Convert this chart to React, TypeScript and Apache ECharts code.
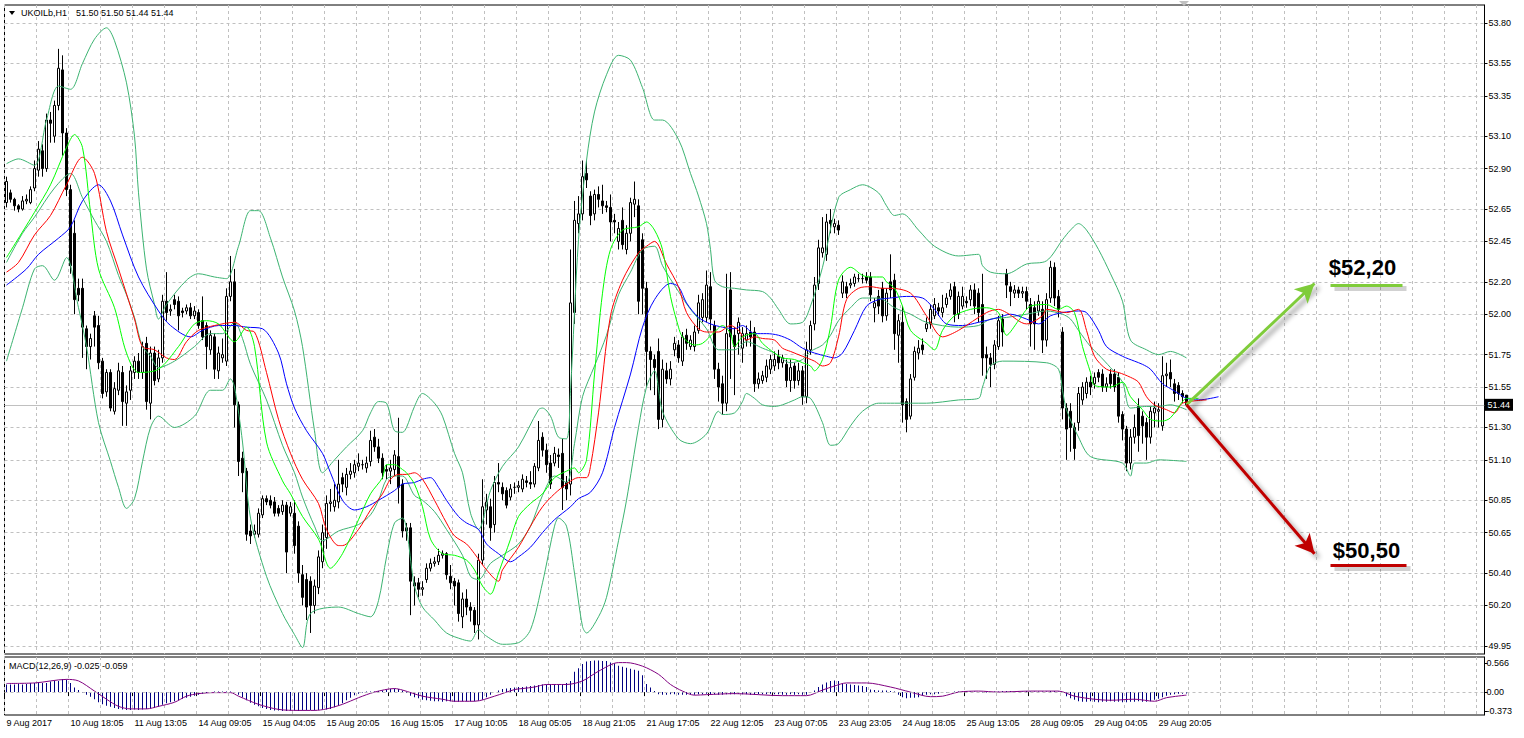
import React, { useEffect, useRef } from 'react';
import * as echarts from 'echarts';

const FF = "'Liberation Sans', Arial, sans-serif";

// x-axis tick labels (one every 16 bars)
const tickLabels = ['9 Aug 2017', '10 Aug 18:05', '11 Aug 13:05', '14 Aug 09:05', '15 Aug 04:05', '15 Aug 20:05', '16 Aug 15:05', '17 Aug 10:05', '18 Aug 05:05', '18 Aug 21:05', '21 Aug 17:05', '22 Aug 12:05', '23 Aug 07:05', '23 Aug 23:05', '24 Aug 18:05', '25 Aug 13:05', '28 Aug 09:05', '29 Aug 04:05', '29 Aug 20:05'];
const priceTicks = [53.80, 53.55, 53.35, 53.10, 52.90, 52.65, 52.45, 52.20, 52.00, 51.75, 51.55, 51.30, 51.10, 50.85, 50.65, 50.40, 50.20, 49.95];
const macdTicks = [0.566, 0, -0.373];
const SLOTS = 370;

const opens = [
  52.69,52.75,52.71,52.67,52.65,52.70,52.69,52.78,52.89,53.01,
  52.90,53.20,53.10,53.29,53.51,53.12,52.77,52.50,52.16,52.16,
  51.91,51.80,51.99,51.93,51.71,51.52,51.64,51.40,51.53,51.64,
  51.45,51.53,51.64,51.71,51.64,51.82,51.45,51.76,51.60,51.73,
  52.08,52.02,52.09,52.08,52.02,52.02,52.04,51.99,52.01,51.96,
  51.93,51.78,51.86,51.65,51.73,51.71,52.11,52.20,51.44,51.11,
  51.03,50.66,50.64,50.64,50.76,50.86,50.85,50.84,50.80,50.78,
  50.82,50.77,50.77,50.69,50.39,50.36,50.35,50.20,50.31,50.47,
  50.62,50.83,50.81,50.84,50.99,50.93,51.01,51.02,51.06,51.07,
  51.05,51.09,51.24,51.18,51.11,51.04,51.03,51.04,51.12,50.95,
  50.68,50.68,50.34,50.34,50.30,50.36,50.43,50.46,50.47,50.51,
  50.52,50.38,50.35,50.34,50.13,50.24,50.19,50.17,50.08,50.48,
  50.79,50.81,50.70,50.96,50.93,50.91,50.87,50.93,50.93,50.92,
  50.97,50.96,50.95,51.05,51.24,51.16,51.08,51.08,51.13,51.14,
  50.96,50.95,52.01,52.56,52.62,52.87,52.73,52.62,52.74,52.70,
  52.67,52.66,52.58,52.45,52.58,52.40,52.50,52.68,52.67,52.46,
  52.16,51.77,51.72,51.77,51.35,51.65,51.60,51.78,51.81,51.71,
  51.87,51.80,51.80,51.90,51.98,51.98,52.17,51.93,51.66,51.57,
  51.45,52.15,51.87,51.88,51.79,51.84,51.89,51.89,51.57,51.59,
  51.61,51.66,51.68,51.74,51.70,51.69,51.59,51.68,51.59,51.65,
  51.49,51.78,51.94,52.19,52.38,52.37,52.58,52.54,52.55,52.13,
  52.17,52.18,52.19,52.22,52.22,52.23,52.23,52.04,52.11,52.16,
  51.99,52.20,52.21,51.87,51.95,51.46,51.37,51.61,51.76,51.81,
  51.91,51.94,51.99,52.04,52.01,52.06,52.11,52.17,52.00,52.05,
  52.08,52.09,52.15,52.13,52.06,51.75,51.73,51.69,51.80,51.97,
  52.25,52.17,52.13,52.15,52.13,52.14,52.06,52.04,52.02,52.03,
  51.84,52.10,52.29,52.11,51.89,51.42,51.40,51.30,51.33,51.47,
  51.51,51.58,51.57,51.64,51.63,51.55,51.63,51.63,51.61,51.38,
  51.29,51.08,51.24,51.43,51.37,51.33,51.24,51.39,51.40,51.31,
  51.62,51.64,51.57,51.56,51.51,51.50,
];
const highs = [
  52.85,52.77,52.72,52.68,52.73,52.74,52.79,52.95,53.07,53.05,
  53.24,53.25,53.32,53.64,53.60,53.15,52.80,52.58,52.22,52.22,
  51.93,51.88,52.02,51.99,51.73,51.66,51.66,51.58,51.70,51.68,
  51.56,51.68,51.74,51.76,51.83,51.86,51.80,51.80,51.78,52.12,
  52.26,52.06,52.12,52.11,52.04,52.06,52.07,52.05,52.03,52.11,
  51.95,51.90,51.88,51.80,51.85,52.16,52.36,52.28,51.46,51.15,
  51.05,50.70,50.70,50.80,50.88,50.88,50.88,50.87,50.82,50.85,
  50.84,50.84,50.85,50.72,50.45,50.40,50.38,50.36,50.54,50.70,
  50.88,50.92,50.95,51.10,51.02,51.05,51.08,51.10,51.14,51.10,
  51.12,51.28,51.29,51.23,51.14,51.07,51.10,51.16,51.36,50.98,
  50.71,50.71,50.38,50.37,50.35,50.46,50.49,50.50,50.55,50.54,
  50.53,50.45,50.37,50.36,50.28,50.30,50.22,50.19,50.52,50.98,
  50.89,50.86,51.00,51.08,50.96,50.93,50.95,50.96,50.97,51.01,
  51.00,51.03,51.08,51.34,51.27,51.20,51.13,51.18,51.17,51.23,
  51.00,52.40,52.70,52.73,52.95,52.95,52.76,52.77,52.79,52.80,
  52.70,52.74,52.62,52.57,52.66,52.55,52.72,52.82,52.71,52.50,
  52.20,51.80,51.75,51.85,51.72,51.70,51.71,51.86,51.84,51.89,
  51.91,51.87,51.93,52.12,52.13,52.27,52.26,51.96,51.70,51.62,
  52.25,52.26,51.92,51.98,51.92,51.93,51.96,51.92,51.64,51.65,
  51.72,51.75,51.77,51.78,51.75,51.72,51.72,51.70,51.70,51.68,
  51.83,51.96,52.23,52.46,52.60,52.62,52.65,52.59,52.58,52.24,
  52.20,52.22,52.25,52.25,52.25,52.26,52.26,52.10,52.15,52.20,
  52.16,52.37,52.25,52.00,52.05,51.48,51.63,51.80,51.84,51.85,
  51.98,52.06,52.10,52.07,52.12,52.13,52.19,52.20,52.14,52.17,
  52.11,52.18,52.19,52.16,52.25,51.80,51.76,51.84,51.99,52.00,
  52.28,52.20,52.18,52.17,52.17,52.17,52.10,52.08,52.12,52.08,
  52.13,52.33,52.32,52.15,51.92,51.45,51.45,51.33,51.55,51.58,
  51.61,51.62,51.64,51.66,51.66,51.61,51.66,51.66,51.64,51.40,
  51.31,51.29,51.38,51.48,51.40,51.36,51.43,51.46,51.45,51.74,
  51.70,51.72,51.60,51.58,51.53,51.50,
];
const lows = [
  52.66,52.69,52.64,52.63,52.64,52.68,52.68,52.76,52.85,52.85,
  52.88,53.06,53.06,53.26,52.98,52.73,52.25,52.00,52.08,51.73,
  51.66,51.72,51.80,51.66,51.48,51.49,51.40,51.38,51.50,51.31,
  51.31,51.47,51.60,51.60,51.60,51.41,51.35,51.56,51.58,51.70,
  51.96,51.99,52.03,51.90,51.98,52.00,51.97,51.97,51.91,51.84,
  51.66,51.75,51.60,51.60,51.70,51.68,52.08,51.30,51.00,50.90,
  50.60,50.58,50.62,50.62,50.74,50.82,50.80,50.75,50.75,50.76,
  50.40,50.75,50.52,50.34,50.20,50.11,50.03,50.15,50.27,50.43,
  50.55,50.78,50.78,50.80,50.90,50.88,50.98,50.99,51.03,51.04,
  51.02,51.06,51.15,51.08,50.98,50.98,50.95,51.00,50.83,50.62,
  50.60,50.14,50.20,50.25,50.26,50.34,50.41,50.44,50.45,50.49,
  50.36,50.30,50.20,50.10,50.06,50.14,50.10,50.03,49.99,50.45,
  50.70,50.60,50.65,50.90,50.85,50.80,50.85,50.89,50.90,50.90,
  50.93,50.92,50.93,51.03,51.12,51.02,50.92,51.06,51.05,50.79,
  50.85,50.88,51.94,52.50,52.58,52.78,52.55,52.58,52.66,52.62,
  52.63,52.45,52.50,52.40,52.40,52.37,52.45,52.60,52.00,52.00,
  51.55,51.53,51.50,51.29,51.30,51.57,51.56,51.74,51.70,51.68,
  51.78,51.78,51.77,51.88,51.95,51.95,51.90,51.60,51.46,51.38,
  51.40,51.60,51.50,51.75,51.70,51.80,51.80,51.52,51.54,51.57,
  51.58,51.63,51.65,51.66,51.67,51.55,51.52,51.54,51.56,51.44,
  51.45,51.75,51.90,52.15,52.35,52.33,52.50,52.50,52.49,52.10,
  52.10,52.16,52.17,52.20,52.19,52.19,52.08,51.95,52.00,51.95,
  51.96,52.10,51.78,51.70,51.33,51.27,51.35,51.59,51.72,51.75,
  51.89,51.91,51.97,51.99,51.98,52.04,52.09,51.95,51.97,52.03,
  52.04,52.05,52.00,51.95,51.62,51.60,51.55,51.66,51.78,51.80,
  52.10,52.05,52.10,52.10,52.10,52.03,51.80,51.78,51.99,51.76,
  51.80,52.07,52.05,51.98,51.35,51.10,51.15,51.10,51.28,51.44,
  51.48,51.50,51.54,51.58,51.52,51.52,51.54,51.52,51.33,51.22,
  51.03,51.04,51.20,51.15,51.20,51.10,51.20,51.30,51.30,51.28,
  51.55,51.55,51.46,51.47,51.45,51.44,
];
const closes = [
  52.82,52.71,52.67,52.65,52.70,52.71,52.77,52.90,53.02,52.90,
  53.20,53.18,53.29,53.52,53.12,52.77,52.30,52.09,52.12,51.92,
  51.80,51.85,51.92,51.70,51.51,51.64,51.42,51.54,51.65,51.46,
  51.52,51.65,51.71,51.64,51.80,51.46,51.76,51.59,51.73,52.08,
  52.01,52.03,52.06,51.99,52.01,52.04,51.99,52.02,51.93,51.86,
  51.80,51.87,51.66,51.76,51.75,52.11,52.20,51.44,51.09,51.02,
  50.64,50.63,50.66,50.77,50.86,50.84,50.82,50.77,50.77,50.82,
  50.53,50.81,50.57,50.40,50.25,50.19,50.20,50.32,50.50,50.65,
  50.83,50.84,50.85,50.95,50.95,51.01,51.03,51.07,51.08,51.07,
  51.08,51.22,51.18,51.11,51.02,51.03,51.05,51.13,50.93,50.66,
  50.66,50.35,50.32,50.30,50.31,50.43,50.46,50.47,50.51,50.52,
  50.39,50.34,50.32,50.15,50.24,50.19,50.17,50.08,50.48,50.81,
  50.84,50.68,50.96,50.95,50.89,50.82,50.92,50.93,50.94,50.98,
  50.96,50.95,51.06,51.22,51.16,51.07,50.95,51.14,51.12,50.93,
  50.92,52.07,52.58,52.62,52.85,52.83,52.61,52.74,52.71,52.67,
  52.66,52.57,52.57,52.53,52.43,52.50,52.69,52.71,52.08,52.16,
  51.77,51.72,51.67,51.35,51.66,51.60,51.66,51.82,51.73,51.86,
  51.82,51.84,51.89,52.07,52.09,52.18,51.97,51.66,51.55,51.45,
  51.88,51.86,51.80,51.95,51.88,51.88,51.86,51.57,51.60,51.62,
  51.68,51.72,51.72,51.70,51.73,51.59,51.67,51.59,51.65,51.49,
  51.78,51.93,52.18,52.41,52.41,52.57,52.56,52.56,52.52,52.20,
  52.13,52.19,52.23,52.22,52.22,52.21,52.12,52.07,52.05,51.99,
  52.13,52.15,51.88,51.96,51.44,51.35,51.60,51.77,51.79,51.78,
  51.94,52.03,52.06,52.02,52.04,52.10,52.15,52.00,52.11,52.11,
  52.07,52.15,52.05,52.01,51.73,51.73,51.69,51.81,51.96,51.89,
  52.18,52.14,52.15,52.13,52.14,52.08,51.94,51.94,52.08,51.84,
  52.09,52.29,52.10,52.03,51.42,51.29,51.30,51.17,51.51,51.55,
  51.58,51.55,51.61,51.61,51.55,51.57,51.57,51.55,51.37,51.29,
  51.08,51.24,51.30,51.25,51.31,51.24,51.40,51.42,51.41,51.62,
  51.63,51.60,51.51,51.51,51.49,51.44,
];

// Alligator lines: [bar, value]
const lipsGreen = [[0,52.35],[7,52.63],[11,52.80],[15,53.03],[17,53.11],[19,53.03],[21,52.63],[23,52.28],[27,52.04],[30,51.76],[33,51.64],[38,51.66],[43,51.80],[47,51.94],[50,51.96],[53,51.94],[57,51.83],[60,51.92],[62,51.80],[65,51.21],[69,50.97],[71,50.89],[74,50.75],[78,50.61],[81,50.43],[84,50.52],[88,50.73],[91,50.89],[94,50.99],[95,51.07],[97,51.07],[99,51.04],[100,51.02],[102,50.95],[104,50.81],[106,50.61],[109,50.52],[112,50.51],[115,50.48],[117,50.42],[119,50.32],[121,50.27],[123,50.40],[126,50.61],[128,50.75],[131,50.83],[134,50.89],[137,50.99],[140,51.03],[142,51.05],[143,51.02],[145,51.10],[147,51.63],[149,52.13],[151,52.40],[154,52.52],[158,52.54],[160,52.57],[162,52.52],[164,52.40],[166,52.11],[168,51.92],[169,51.86],[172,51.81],[174,51.82],[177,51.89],[179,51.93],[181,51.88],[182,51.80],[184,51.86],[187,51.88],[189,51.82],[192,51.76],[194,51.73],[197,51.72],[199,51.70],[201,51.68],[202,51.65],[204,51.72],[206,51.92],[208,52.21],[211,52.29],[214,52.24],[216,52.23],[219,52.23],[220,52.20],[222,52.16],[224,52.05],[226,51.90],[230,51.82],[232,51.78],[234,51.90],[237,51.99],[241,52.03],[245,52.04],[248,52.01],[250,51.87],[253,51.96],[256,52.05],[260,52.06],[263,52.03],[265,52.05],[267,52.01],[269,51.80],[271,51.64],[272,51.56],[276,51.55],[279,51.58],[281,51.49],[284,51.41],[286,51.35],[289,51.34],[291,51.36],[294,51.46],[295,51.48],[298,51.48]];
const teethRed = [[0,52.26],[3,52.32],[7,52.49],[11,52.61],[15,52.80],[19,52.97],[22,52.87],[25,52.51],[28,52.28],[32,51.97],[34,51.80],[37,51.78],[40,51.73],[42,51.72],[45,51.83],[48,51.90],[52,51.93],[57,51.95],[60,51.90],[62,51.89],[65,51.64],[68,51.35],[71,51.14],[74,50.98],[78,50.83],[80,50.67],[83,50.57],[84,50.57],[88,50.67],[91,50.79],[94,50.89],[96,50.98],[98,51.01],[100,51.01],[102,51.02],[104,50.98],[107,50.85],[110,50.71],[112,50.63],[115,50.58],[117,50.52],[120,50.42],[123,50.35],[124,50.42],[128,50.56],[131,50.69],[134,50.81],[137,50.89],[140,50.95],[143,50.99],[145,50.99],[146,51.06],[148,51.39],[151,51.99],[154,52.21],[158,52.38],[160,52.42],[162,52.45],[165,52.31],[168,52.17],[170,52.01],[173,51.91],[175,51.89],[178,51.89],[181,51.93],[183,51.90],[185,51.84],[187,51.86],[189,51.85],[192,51.84],[194,51.79],[196,51.77],[199,51.74],[202,51.71],[204,51.68],[206,51.70],[208,51.86],[210,52.09],[213,52.16],[216,52.17],[219,52.16],[221,52.16],[226,52.13],[230,51.99],[234,51.86],[238,51.90],[245,52.01],[248,52.03],[250,52.01],[255,51.94],[259,51.99],[260,52.03],[265,52.01],[268,52.03],[270,51.90],[272,51.74],[275,51.66],[278,51.64],[281,51.61],[283,51.58],[285,51.49],[287,51.44],[290,51.41],[292,51.39],[294,51.45],[300,51.47]];
const jawBlue = [[0,52.18],[5,52.28],[8,52.37],[13,52.47],[16,52.54],[19,52.70],[23,52.80],[26,52.70],[29,52.49],[33,52.23],[38,52.02],[41,51.93],[46,51.86],[49,51.90],[53,51.93],[57,51.93],[60,51.92],[64,51.91],[68,51.76],[70,51.57],[72,51.42],[75,51.28],[79,51.14],[81,51.02],[84,50.85],[87,50.79],[90,50.81],[93,50.85],[97,50.91],[99,50.95],[102,50.96],[104,50.98],[106,50.99],[108,50.93],[110,50.85],[113,50.75],[115,50.71],[118,50.67],[120,50.58],[123,50.52],[126,50.47],[128,50.50],[131,50.56],[134,50.65],[137,50.73],[141,50.81],[143,50.86],[146,50.90],[149,51.02],[152,51.30],[156,51.63],[159,51.92],[162,52.09],[166,52.19],[168,52.17],[170,52.07],[173,51.98],[176,51.94],[179,51.92],[182,51.91],[184,51.93],[187,51.88],[190,51.88],[193,51.87],[196,51.84],[199,51.79],[202,51.76],[205,51.74],[207,51.73],[209,51.76],[212,51.90],[215,52.05],[218,52.09],[221,52.10],[225,52.11],[229,52.10],[232,52.03],[235,51.94],[239,51.93],[243,51.95],[248,51.98],[251,52.00],[255,51.97],[258,51.94],[261,51.99],[264,52.01],[268,52.02],[270,52.01],[273,51.90],[275,51.80],[279,51.74],[282,51.71],[284,51.69],[286,51.66],[289,51.57],[291,51.54],[293,51.51],[295,51.48],[298,51.47],[303,51.49]];

// Bollinger bands: [bar, value]
const bbUpper = [[0,52.93],[3,52.96],[7,52.92],[10,53.20],[13,53.41],[16,53.39],[19,53.55],[22,53.70],[25,53.77],[27,53.69],[30,53.43],[32,53.10],[33,52.75],[35,52.28],[37,52.06],[38,51.97],[40,52.06],[45,52.21],[48,52.25],[52,52.23],[55,52.22],[58,52.42],[61,52.64],[63,52.64],[66,52.47],[69,52.23],[72,52.02],[74,51.80],[77,51.28],[79,51.02],[82,51.10],[85,51.18],[89,51.28],[91,51.39],[93,51.46],[95,51.45],[97,51.28],[99,51.27],[100,51.30],[102,51.43],[104,51.51],[107,51.45],[109,51.37],[112,51.14],[114,51.02],[116,50.77],[118,50.67],[121,50.91],[124,51.06],[128,51.18],[133,51.41],[134,51.42],[136,51.37],[138,51.24],[140,51.23],[141,51.53],[143,52.46],[145,52.95],[147,53.25],[150,53.48],[153,53.60],[156,53.57],[159,53.40],[162,53.20],[164,53.20],[168,53.08],[171,52.87],[173,52.73],[175,52.56],[176,52.40],[177,52.21],[179,52.17],[182,52.16],[185,52.15],[189,52.14],[191,52.10],[193,52.03],[196,51.94],[199,51.95],[201,52.05],[204,52.29],[208,52.72],[211,52.77],[214,52.80],[218,52.75],[220,52.67],[222,52.61],[224,52.62],[228,52.52],[232,52.42],[238,52.36],[243,52.37],[244,52.30],[246,52.26],[250,52.25],[255,52.31],[260,52.33],[264,52.46],[266,52.52],[268,52.56],[270,52.52],[273,52.40],[276,52.25],[279,52.08],[281,51.84],[285,51.78],[288,51.75],[291,51.77],[295,51.73]];
const bbMiddle = [[0,52.32],[4,52.50],[7,52.60],[12,52.78],[16,52.87],[19,52.72],[22,52.58],[25,52.45],[28,52.24],[30,52.12],[32,51.98],[34,51.80],[36,51.74],[38,51.67],[42,51.71],[47,51.80],[51,51.88],[54,51.88],[57,51.95],[59,51.85],[61,51.69],[65,51.47],[69,51.19],[72,51.02],[74,50.87],[77,50.69],[79,50.60],[83,50.66],[88,50.70],[91,50.76],[93,50.85],[95,50.98],[97,51.00],[99,51.00],[102,50.88],[104,50.85],[107,50.78],[110,50.67],[114,50.51],[116,50.38],[118,50.36],[121,50.46],[124,50.51],[128,50.58],[131,50.69],[134,50.88],[137,51.00],[140,50.96],[142,51.20],[144,51.49],[147,51.68],[150,51.87],[153,52.12],[156,52.26],[159,52.40],[162,52.42],[164,52.30],[168,52.14],[171,52.03],[175,51.91],[178,51.78],[182,51.78],[185,51.83],[189,51.79],[192,51.76],[196,51.70],[199,51.72],[201,51.77],[204,51.81],[206,51.87],[208,51.96],[211,52.04],[214,52.10],[218,52.10],[222,52.04],[226,52.00],[230,51.95],[238,51.92],[243,51.93],[246,51.97],[250,51.98],[255,52.00],[260,52.02],[264,52.00],[266,51.97],[268,51.90],[271,51.80],[273,51.75],[276,51.67],[279,51.58],[281,51.42],[285,51.43],[288,51.43],[291,51.44],[295,51.41]];
const bbLower = [[0,51.71],[4,52.04],[7,52.28],[9,52.30],[12,52.21],[15,52.35],[18,52.04],[20,51.80],[23,51.33],[26,51.09],[28,50.93],[30,50.80],[32,50.86],[34,51.09],[36,51.30],[38,51.37],[42,51.30],[47,51.37],[51,51.53],[54,51.53],[56,51.60],[57,51.55],[59,51.21],[61,50.74],[65,50.38],[69,50.15],[72,50.02],[74,49.94],[76,50.15],[83,50.19],[88,50.15],[91,50.13],[93,50.23],[95,50.50],[97,50.71],[99,50.74],[102,50.32],[104,50.19],[107,50.11],[110,50.03],[114,49.99],[116,49.98],[118,50.05],[120,50.01],[124,49.96],[128,49.97],[131,50.05],[134,50.34],[137,50.69],[138,50.74],[140,50.69],[142,50.40],[144,50.07],[145,50.03],[148,50.13],[150,50.25],[153,50.60],[155,50.85],[158,51.30],[160,51.55],[162,51.65],[164,51.40],[168,51.23],[171,51.20],[175,51.26],[178,51.40],[179,51.38],[182,51.39],[184,51.46],[185,51.51],[187,51.48],[189,51.44],[192,51.43],[194,51.44],[197,51.47],[199,51.49],[201,51.48],[204,51.33],[206,51.19],[208,51.20],[211,51.31],[214,51.40],[218,51.45],[222,51.45],[230,51.45],[238,51.47],[243,51.48],[244,51.55],[246,51.68],[249,51.71],[260,51.70],[263,51.66],[264,51.53],[265,51.41],[268,51.24],[271,51.12],[279,51.08],[281,51.00],[282,51.08],[285,51.08],[288,51.10],[295,51.09]];

// MACD(12,26,9) main values (histogram) per bar and signal line points
const macdMain = [
  0.15,0.15,0.15,0.16,0.15,0.16,0.18,0.18,0.19,0.18,
  0.18,0.21,0.22,0.22,0.26,0.25,0.18,0.09,0.04,-0.01,
  -0.05,-0.09,-0.14,-0.20,-0.24,-0.27,-0.29,-0.31,-0.33,-0.34,
  -0.35,-0.35,-0.34,-0.35,-0.34,-0.33,-0.32,-0.31,-0.29,-0.25,
  -0.22,-0.20,-0.18,-0.16,-0.13,-0.11,-0.09,-0.07,-0.05,-0.03,
  -0.02,-0.01,0.01,0.01,0.01,0.01,0.01,0.00,-0.05,-0.10,
  -0.16,-0.21,-0.25,-0.28,-0.31,-0.33,-0.35,-0.36,-0.36,-0.37,
  -0.37,-0.36,-0.36,-0.37,-0.36,-0.36,-0.35,-0.36,-0.35,-0.34,
  -0.34,-0.33,-0.30,-0.27,-0.22,-0.16,-0.11,-0.06,-0.03,-0.01,
  0.01,0.01,0.01,0.02,0.03,0.05,0.06,0.07,0.06,0.03,
  -0.02,-0.07,-0.10,-0.12,-0.15,-0.16,-0.17,-0.18,-0.18,-0.19,
  -0.18,-0.18,-0.19,-0.19,-0.18,-0.18,-0.18,-0.18,-0.17,-0.15,
  -0.10,-0.05,0.00,0.03,0.06,0.07,0.08,0.09,0.10,0.10,
  0.11,0.12,0.13,0.14,0.15,0.15,0.15,0.14,0.14,0.15,
  0.18,0.22,0.40,0.47,0.55,0.60,0.61,0.62,0.62,0.61,
  0.61,0.58,0.56,0.52,0.50,0.48,0.46,0.44,0.42,0.33,
  0.16,0.09,0.02,-0.04,-0.05,-0.05,-0.04,-0.04,-0.05,-0.05,
  -0.05,-0.04,-0.05,-0.04,-0.04,-0.03,-0.04,-0.04,-0.05,-0.05,
  -0.04,-0.04,-0.04,-0.03,-0.04,-0.04,-0.05,-0.05,-0.04,-0.04,
  -0.04,-0.03,-0.04,-0.04,-0.05,-0.05,-0.04,-0.05,-0.04,-0.05,
  -0.05,-0.02,0.03,0.10,0.15,0.19,0.22,0.23,0.22,0.17,
  0.16,0.15,0.14,0.13,0.12,0.10,0.05,0.04,0.03,0.03,
  0.03,0.02,0.01,-0.05,-0.10,-0.12,-0.11,-0.11,-0.10,-0.06,
  -0.05,-0.04,-0.04,-0.03,-0.02,-0.01,0.00,0.01,0.01,0.01,
  0.02,0.01,0.01,0.00,-0.01,-0.01,0.00,0.01,0.01,0.02,
  0.02,0.02,0.01,0.01,0.01,0.02,0.01,0.01,0.01,0.01,
  0.01,0.02,0.02,0.01,-0.02,-0.08,-0.12,-0.15,-0.18,-0.19,
  -0.19,-0.18,-0.19,-0.20,-0.19,-0.19,-0.18,-0.19,-0.19,-0.20,
  -0.20,-0.19,-0.19,-0.18,-0.19,-0.19,-0.18,-0.15,-0.13,-0.10,
  -0.07,-0.05,-0.04,-0.03,-0.03,-0.025,
];
const macdSignal = [[0,0.17],[7,0.18],[15,0.25],[18,0.22],[22,0.02],[25,-0.14],[28,-0.28],[31,-0.33],[35,-0.33],[38,-0.28],[42,-0.20],[45,-0.08],[48,-0.03],[52,-0.01],[56,-0.01],[58,-0.08],[63,-0.24],[68,-0.34],[73,-0.36],[77,-0.36],[80,-0.33],[84,-0.24],[88,-0.11],[92,0.0],[97,0.07],[99,0.04],[104,-0.08],[109,-0.14],[112,-0.18],[117,-0.18],[122,-0.08],[127,0.05],[129,0.07],[132,0.10],[135,0.15],[140,0.15],[144,0.22],[148,0.41],[153,0.58],[155,0.58],[159,0.51],[163,0.35],[166,0.15],[169,0.02],[172,-0.06],[175,-0.05],[182,-0.03],[194,-0.07],[200,-0.07],[204,0.04],[207,0.12],[210,0.18],[215,0.18],[221,0.10],[226,0.0],[231,-0.09],[234,-0.08],[238,0.0],[243,0.02],[248,0.0],[256,0.02],[263,0.02],[267,-0.08],[272,-0.14],[276,-0.16],[282,-0.14],[287,-0.18],[290,-0.11],[295,-0.059]];

// Annotation targets
const lastBar = 295;
const lastPrice = 51.44;
const targetUp = 52.20;
const targetDown = 50.50;

export default function App() {
  const ref = useRef<HTMLDivElement>(null);
  useEffect(() => {
    const chart = echarts.init(ref.current as HTMLDivElement, null, { renderer: 'svg' });
    const cats = Array.from({ length: SLOTS }, (_, i) => String(i));
    const candles = opens.map((o, i) => [o, closes[i], lows[i], highs[i]]);
    const dash = { color: '#c0c0c0', type: [3, 3] as any, width: 1 };
    const every8 = (i: number) => i % 8 === 0;
    const every16 = (i: number) => i % 16 === 0 && i <= 288;
    const line = (name: string, pts: number[][], color: string, xi = 0, yi = 0) => ({
      type: 'line', name, data: pts, xAxisIndex: xi, yAxisIndex: yi,
      showSymbol: false, symbol: 'none', smooth: 0.3, silent: true, z: 3,
      lineStyle: { color, width: 1 },
    });
    const shadow = { shadowBlur: 5, shadowColor: 'rgba(0,0,0,0.45)', shadowOffsetX: 4, shadowOffsetY: 4 };
    const G = { left: 4.5, right: 39.5, show: true, borderColor: '#000', borderWidth: 1, backgroundColor: 'transparent', outerBoundsMode: 'none', containLabel: false };
    const option: any = {
      animation: false,
      backgroundColor: '#ffffff',
      textStyle: { fontFamily: FF },
      grid: [
        { ...G, top: 5, height: 649 },
        { ...G, top: 657, height: 58 },
      ],
      xAxis: [
        { type: 'category', gridIndex: 0, data: cats, boundaryGap: true,
          axisLine: { show: false }, axisTick: { show: false }, axisLabel: { show: false },
          splitLine: { show: true, interval: every8, lineStyle: dash } },
        { type: 'category', gridIndex: 1, data: cats, boundaryGap: true,
          axisLine: { show: false },
          axisTick: { show: true, interval: every16, length: 4, lineStyle: { color: '#000' } },
          axisLabel: { show: true, interval: every16, formatter: (v: string, i: number) => tickLabels[i / 16] ?? '', align: 'left', margin: 3, fontSize: 9, fontFamily: FF, color: '#000', hideOverlap: false },
          splitLine: { show: true, interval: every8, lineStyle: dash } },
      ],
      yAxis: [
        { type: 'value', gridIndex: 0, position: 'right', min: 49.90, max: 53.911, scale: true,
          axisLine: { show: true, lineStyle: { color: '#000' } },
          axisTick: { show: true, customValues: priceTicks, length: 3, lineStyle: { color: '#000' } },
          axisLabel: { customValues: priceTicks, formatter: (v: number) => v.toFixed(2), margin: 4, fontSize: 9, fontFamily: FF, color: '#000', hideOverlap: false },
          splitLine: { show: true, lineStyle: dash } },
        { type: 'value', gridIndex: 1, position: 'right', min: -0.45, max: 0.69,
          axisLine: { show: true, lineStyle: { color: '#000' } },
          axisTick: { show: true, customValues: macdTicks, length: 3, lineStyle: { color: '#000' } },
          axisLabel: { customValues: macdTicks, formatter: (v: number) => (v === 0 ? '0.00' : String(v)), margin: 2, fontSize: 9, fontFamily: FF, color: '#000', hideOverlap: false },
          splitLine: { show: false } },
      ],
      series: [
        { type: 'candlestick', name: 'UKOILb', data: candles, xAxisIndex: 0, yAxisIndex: 0, barWidth: 2, z: 2,
          itemStyle: { color: '#ffffff', color0: '#000000', borderColor: '#000000', borderColor0: '#000000', borderWidth: 1 },
          markLine: {
            silent: true, animation: false, symbol: ['none', 'none'], z: 1,
            data: [
              { yAxis: lastPrice, symbol: 'none', lineStyle: { color: '#c0c0c0', type: 'solid', width: 1 },
                label: { show: true, position: 'end', formatter: '51.44', color: '#fff', backgroundColor: '#000', padding: [2, 3, 1, 3], fontSize: 9, fontFamily: FF, distance: 0 } },
            ],
          },
        },
        line('BB upper', bbUpper, '#3cb371'),
        line('BB middle', bbMiddle, '#3cb371'),
        line('BB lower', bbLower, '#3cb371'),
        line('Jaw', jawBlue, '#0000ff'),
        line('Teeth', teethRed, '#ff0000'),
        line('Lips', lipsGreen, '#00ff00'),
        { type: 'bar', name: 'MACD', data: macdMain, xAxisIndex: 1, yAxisIndex: 1, barWidth: 1, silent: true,
          itemStyle: { color: '#000080' },
          markLine: { silent: true, symbol: ['none', 'none'], label: { show: false }, lineStyle: { color: '#c0c0c0', type: [3, 3], width: 1 }, data: [{ yAxis: 0 }] } },
        { ...line('Signal', macdSignal, '#800080', 1, 1), smooth: 0.3 },
        { type: 'line', name: 'Forecast', data: [], xAxisIndex: 0, yAxisIndex: 0, silent: true, z: 6,
          markLine: {
            silent: true, animation: false, symbol: ['none', 'none'], label: { show: false },
            data: [
              // soft shadows under the underlines
              [{ coord: [332, 52.16], symbol: 'none', lineStyle: { color: 'rgba(0,0,0,0.18)', width: 5, type: 'solid' } },
               { coord: [350, 52.16], symbol: 'none' }],
              [{ coord: [332, 50.43], symbol: 'none', lineStyle: { color: 'rgba(0,0,0,0.18)', width: 5, type: 'solid' } },
               { coord: [351, 50.43], symbol: 'none' }],
              [{ coord: [331, 52.18], symbol: 'none', lineStyle: { color: '#7fcc3a', width: 3, type: 'solid' } },
               { coord: [349, 52.18], symbol: 'none' }],
              [{ coord: [331, 50.45], symbol: 'none', lineStyle: { color: '#c00000', width: 3, type: 'solid' } },
               { coord: [350, 50.45], symbol: 'none' }],
              [{ coord: [lastBar, lastPrice], symbol: 'none', lineStyle: { color: '#7fcc3a', width: 3, type: 'solid', ...shadow } },
               { coord: [327, 52.19], symbol: 'arrow', symbolSize: [15, 19] }],
              [{ coord: [lastBar, lastPrice], symbol: 'none', lineStyle: { color: '#c00000', width: 3, type: 'solid', ...shadow } },
               { coord: [327, 50.52], symbol: 'arrow', symbolSize: [15, 19] }],
            ],
          },
          markPoint: {
            silent: true, animation: false, symbol: 'rect', symbolSize: 1, itemStyle: { color: 'rgba(0,0,0,0)' },
            data: [
              { coord: [339, 52.29], label: { show: true, position: 'inside', formatter: '$' + targetUp.toFixed(2).replace('.', ','), fontSize: 22, fontWeight: 'bold', color: '#000', fontFamily: FF } },
              { coord: [340, 50.54], label: { show: true, position: 'inside', formatter: '$' + targetDown.toFixed(2).replace('.', ','), fontSize: 22, fontWeight: 'bold', color: '#000', fontFamily: FF } },
            ],
          },
        },
      ],
      graphic: [
        { type: 'polygon', shape: { points: [[9, 11], [15, 11], [12, 15]] }, style: { fill: '#000' }, silent: true },
        { type: 'text', x: 21, y: 13, style: { text: 'UKOILb,H1', fill: '#000', font: `9px ${FF}`, verticalAlign: 'middle' }, silent: true },
        { type: 'text', x: 76, y: 13, style: { text: '51.50 51.50 51.44 51.44', fill: '#000', font: `9px ${FF}`, verticalAlign: 'middle' }, silent: true },
        { type: 'text', x: 9, y: 666, style: { text: 'MACD(12,26,9) -0.025 -0.059', fill: '#000', font: `9px ${FF}`, verticalAlign: 'middle' }, silent: true },
        { type: 'polygon', shape: { points: [[1179, 1], [1189, 1], [1184, 6]] }, style: { fill: '#c0c0c0' }, silent: true },
      ],
    };
    chart.setOption(option);
    return () => chart.dispose();
  }, []);
  return <div ref={ref} style={{ position: 'fixed', left: 0, top: 0, width: 1524, height: 738, background: '#fff' }} />;
}
